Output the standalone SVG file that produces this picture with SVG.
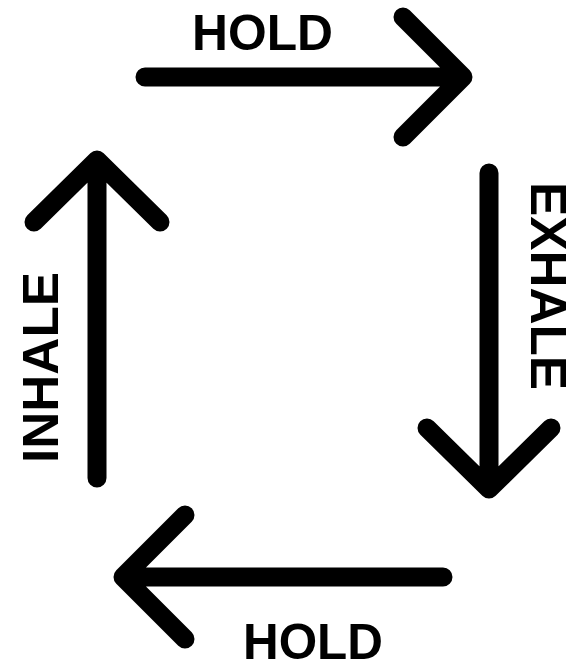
<svg xmlns="http://www.w3.org/2000/svg" width="572" height="664" viewBox="0 0 572 664">
<style>
.a{fill:none;stroke:#000;stroke-width:19;stroke-linecap:round;stroke-linejoin:round}
.t{font-family:"Liberation Sans",Arial,sans-serif;font-weight:bold;font-size:50px;fill:#000}
</style>
<rect width="572" height="664" fill="#fff"/>
<g id="connectors">
<path class="a" d="M145,77 H463 M403,17 L463,77 L403,137"/>
<path class="a" d="M489,173 V489 M427,428 L489,489 L551,428"/>
<path class="a" d="M443,577 H123 M185,515 L123,577 L185,639"/>
<path class="a" d="M97,478 V160 M34,222 L97,160 L160,222"/>
</g>
<g id="hold-top"><text class="t" x="192" y="50" textLength="141" lengthAdjust="spacingAndGlyphs">HOLD</text></g>
<g id="exhale"><text class="t" transform="translate(531,182) rotate(90)" textLength="208" lengthAdjust="spacingAndGlyphs">EXHALE</text></g>
<g id="hold-bottom"><text class="t" x="243" y="659" textLength="140" lengthAdjust="spacingAndGlyphs">HOLD</text></g>
<g id="inhale"><text class="t" transform="translate(58,463) rotate(-90)" textLength="191" lengthAdjust="spacingAndGlyphs">INHALE</text></g>
</svg>
